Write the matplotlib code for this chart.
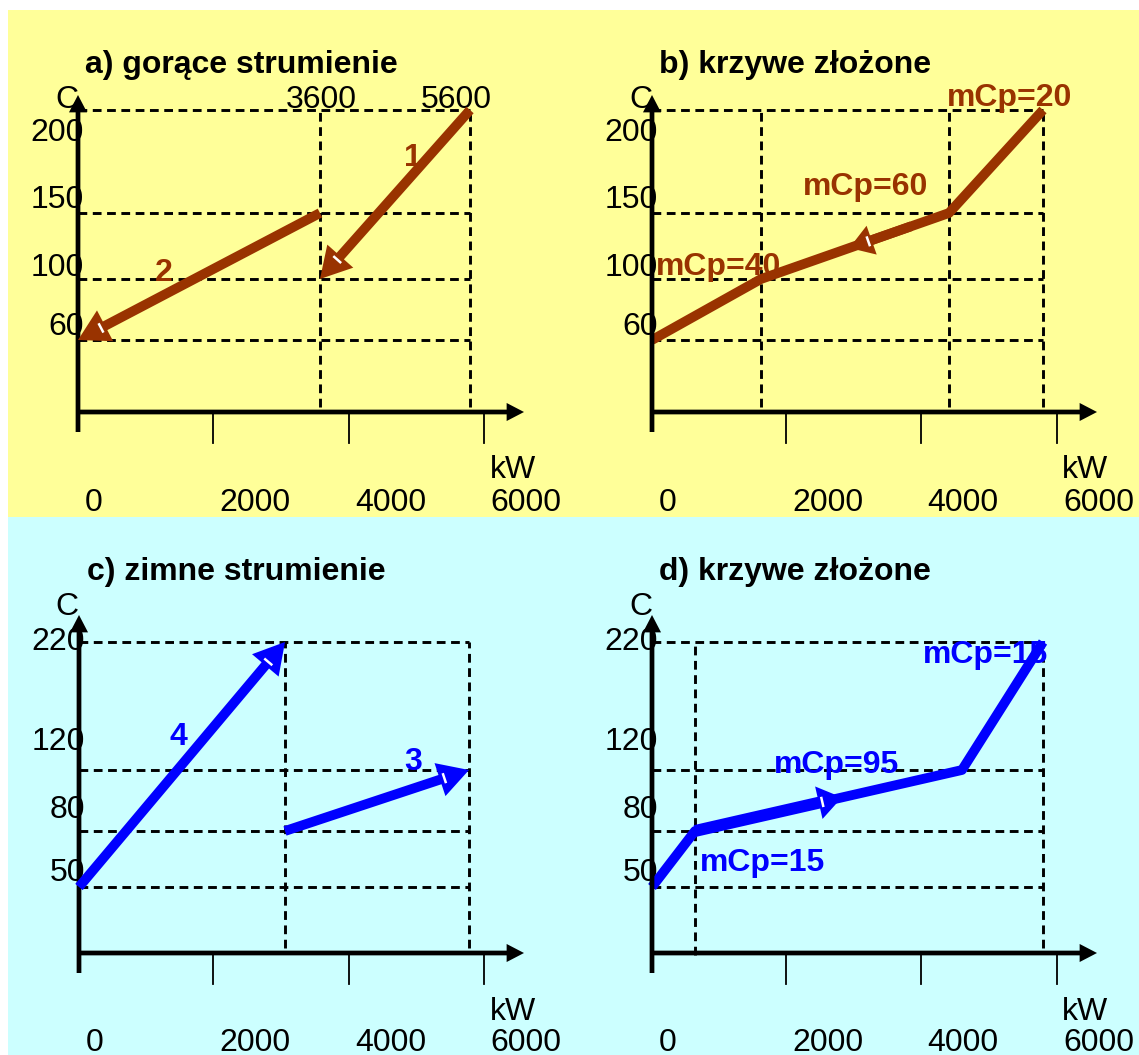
import numpy as np
import matplotlib
matplotlib.use("Agg")
import matplotlib.pyplot as plt
import matplotlib.transforms as mtransforms
from matplotlib.lines import Line2D
from matplotlib.patches import FancyArrowPatch, Rectangle, ArrowStyle

plt.rcParams['font.family'] = ['Liberation Sans', 'DejaVu Sans']

# ---- data (kW, deg C) ----
tick_kw = [0, 2000, 4000, 6000]
hot_temps = [200, 150, 100, 60]
cold_temps = [220, 120, 80, 50]

stream1_q = [5600, 3600]
stream1_t = [200, 100]
stream2_q = [3600, 0]
stream2_t = [150, 60]
stream3_q = [2550, 5750]
stream3_t = [80, 120]
stream4_q = [0, 2550]
stream4_t = [50, 220]

hot_comp_q = [0, 1600, 4600, 5600]
hot_comp_t = [60, 100, 150, 200]
hot_comp_mcp = [40, 60, 20]
cold_comp_q = [0, 450, 4250, 5750]
cold_comp_t = [50, 80, 120, 220]
cold_comp_mcp = [15, 95, 15]

BROWN = '#993300'
BLUE = '#0000ff'
YELLOW = '#ffff99'
CYAN = '#ccffff'
FS = 23
LW = 7.0   # stream line width, points

W, H = 1139, 1055
fig = plt.figure(figsize=(W / 100, H / 100), dpi=100)
fig.patch.set_facecolor('white')
# pixel coords, origin top-left
pix = mtransforms.Affine2D().scale(1 / W, -1 / H).translate(0, 1) + fig.transFigure
ident = mtransforms.IdentityTransform()

fig.patches.append(Rectangle((8, 10), W - 8, 507, transform=pix, facecolor=YELLOW, lw=0, zorder=-2))
fig.patches.append(Rectangle((8, 517), W - 8, H - 517, transform=pix, facecolor=CYAN, lw=0, zorder=-2))


def pw(v, xp, fp):
    # piecewise linear with linear extrapolation (schematic axes)
    v = np.asarray(v, dtype=float)
    xp = np.asarray(xp, float)
    fp = np.asarray(fp, float)
    out = np.interp(v, xp, fp)
    s0 = (fp[1] - fp[0]) / (xp[1] - xp[0])
    s1 = (fp[-1] - fp[-2]) / (xp[-1] - xp[-2])
    out = np.where(v < xp[0], fp[0] + (v - xp[0]) * s0, out)
    out = np.where(v > xp[-1], fp[-1] + (v - xp[-1]) * s1, out)
    return out


def make_panel(box, xkw, xpx, yt, ypx):
    x0, y0, x1, y1 = box
    yneg = [-p for p in ypx]
    ax = fig.add_axes([x0 / W, 1 - y1 / H, (x1 - x0) / W, (y1 - y0) / H])
    ax.set_xscale('function', functions=(lambda v: pw(v, xkw, xpx), lambda v: pw(v, xpx, xkw)))
    ax.set_yscale('function', functions=(lambda v: pw(v, yt, yneg), lambda v: pw(v, yneg, yt)))
    ax.set_xlim(float(pw(x0, xpx, xkw)), float(pw(x1, xpx, xkw)))
    ax.set_ylim(float(pw(-y1, yneg, yt)), float(pw(-y0, yneg, yt)))
    ax.set_axis_off()
    ax.patch.set_visible(False)
    return ax


def axes_arrows(ox, oy, ybot, ytop, xtip):
    st = ArrowStyle.Simple(head_length=12.5, head_width=13, tail_width=3.4)
    for a, b in [((ox, ybot), (ox, ytop)), ((ox - 2, oy), (xtip, oy))]:
        p = FancyArrowPatch(a, b, arrowstyle=st, mutation_scale=1, transform=pix,
                            color='black', lw=0, shrinkA=0, shrinkB=0, zorder=3)
        fig.patches.append(p)


def head_arrow(pa, pb, color, hl=22, hw=25, tw=LW):
    # pa, pb in display pixels; arrow head at pb with a small white notch at its base
    st = ArrowStyle.Simple(head_length=hl, head_width=hw, tail_width=tw)
    fig.patches.append(FancyArrowPatch(tuple(pa), tuple(pb), arrowstyle=st, mutation_scale=1,
                                       transform=ident, color=color, lw=0, shrinkA=0,
                                       shrinkB=0, zorder=5))
    u = (np.asarray(pb) - np.asarray(pa))
    u = u / np.hypot(*u)
    nrm = np.array([-u[1], u[0]])
    base = np.asarray(pb) - u * hl * 100 / 72 * 0.85
    seg = np.array([base - nrm * 4, base + nrm * 4])
    fig.lines.append(Line2D(seg[:, 0], seg[:, 1], transform=ident, color='white', lw=1.8, zorder=6))


def stream_arrow(ax, q, t, color):
    pa = ax.transData.transform((q[0], t[0]))
    pb = ax.transData.transform((q[1], t[1]))
    head_arrow(pa, pb, color)


def mid_arrow(ax, q, t, i, fa, fb, color, hl, hw, tw=LW):
    p0 = ax.transData.transform((q[i], t[i]))
    p1 = ax.transData.transform((q[i + 1], t[i + 1]))
    head_arrow(p0 + fa * (p1 - p0), p0 + fb * (p1 - p0), color, hl=hl, hw=hw, tw=tw)


def dashed(ax, xs, ys):
    ax.plot(xs, ys, color='black', lw=2.1, ls=(0, (3.0, 1.9)), clip_on=False, zorder=2)


def decorate(ax, title, tpos, origin, ybot, ytop, xtip, cpos, kwpos, tick_y, ylabels, yl_x, yl_off):
    ox, oy = origin
    fig.text(tpos[0] / W, 1 - tpos[1] / H, title, fontsize=FS, fontweight='bold', ha='left', va='center')
    axes_arrows(ox, oy, ybot, ytop, xtip)
    tx = mtransforms.blended_transform_factory(ax.transData, pix)
    ty = mtransforms.blended_transform_factory(pix, ax.transData)
    for q in tick_kw[1:]:
        ax.plot([q, q], [oy, oy + 31], color='black', lw=1.3, transform=tx, clip_on=False, zorder=3)
    for q in tick_kw:
        dx = 16 if q == 0 else 42
        ax.annotate(str(q), xy=(q, tick_y), xycoords=tx, xytext=(dx, 0), textcoords='offset pixels',
                    ha='center', va='center', fontsize=FS, annotation_clip=False)
    for t, off in zip(ylabels, yl_off):
        ax.annotate(str(t), xy=(yl_x, t), xycoords=ty, xytext=(0, off), textcoords='offset pixels',
                    ha='right', va='center', fontsize=FS, annotation_clip=False, zorder=4)
    fig.text(cpos[0] / W, 1 - cpos[1] / H, 'C', fontsize=FS, ha='center', va='center')
    fig.text(kwpos[0] / W, 1 - kwpos[1] / H, 'kW', fontsize=FS, ha='center', va='center')


hot_y = ([0, 60, 100, 150, 200], [412, 340, 279, 213, 110])
cold_y = ([0, 50, 80, 120, 220], [953, 887, 831, 770, 642])
hot_off = [-23, 13, 11, 13]
cold_off = [0, 28, 21, 14]

# ---- a) hot streams ----
axa = make_panel((0, 0, 570, 517), [0, 2000, 3600, 4000, 5600, 6000],
                 [78, 213, 320, 349, 470, 484], *hot_y)
for t in hot_temps:
    dashed(axa, [0, 5600], [t, t])
for q in [3600, 5600]:
    dashed(axa, [q, q], [4, 200])
decorate(axa, 'a) gorące strumienie', (85, 65), (78, 412), 432, 95, 524,
         (67, 100), (513, 470), 503, hot_temps, 84, hot_off)
for q, dx in zip([3600, 5600], [1, -14]):
    axa.annotate(str(q), xy=(q, 200), xytext=(dx, 10), textcoords='offset pixels',
                 ha='center', va='center', fontsize=FS, annotation_clip=False, zorder=4)
stream_arrow(axa, stream1_q, stream1_t, BROWN)
stream_arrow(axa, stream2_q, stream2_t, BROWN)
fig.text(413 / W, 1 - 158 / H, '1', color=BROWN, fontsize=FS, fontweight='bold', ha='center', va='center')
fig.text(164 / W, 1 - 273 / H, '2', color=BROWN, fontsize=FS, fontweight='bold', ha='center', va='center')

# ---- b) hot composite ----
axb = make_panel((570, 0, 1139, 517), [0, 1600, 2000, 4000, 4600, 5600, 6000],
                 [652, 761, 786, 921, 949, 1043, 1057], *hot_y)
for t in hot_temps:
    dashed(axb, [0, 5600], [t, t])
for q in hot_comp_q[1:]:
    dashed(axb, [q, q], [4, 200])
decorate(axb, 'b) krzywe złożone', (659, 65), (652, 412), 432, 95, 1097,
         (641, 100), (1085, 470), 503, hot_temps, 658, hot_off)
axb.plot(hot_comp_q, hot_comp_t, color=BROWN, lw=LW, solid_joinstyle='round',
         solid_capstyle='butt', clip_on=False, zorder=5)
mid_arrow(axb, hot_comp_q, hot_comp_t, 1, 0.8, 0.47, BROWN, hl=17, hw=22)
for m, pos in zip(hot_comp_mcp, [(719, 267), (866, 187), (1010, 98)]):
    fig.text(pos[0] / W, 1 - pos[1] / H, f'mCp={m}', color=BROWN, fontsize=FS,
             fontweight='bold', ha='center', va='center', zorder=7)

# ---- c) cold streams ----
axc = make_panel((0, 517, 570, 1055), [0, 2000, 2550, 4000, 5750, 6000],
                 [79, 213, 285, 349, 469, 484], *cold_y)
for t in cold_temps:
    dashed(axc, [0, 5750], [t, t])
for q in [2550, 5750]:
    dashed(axc, [q, q], [4, 220])
decorate(axc, 'c) zimne strumienie', (87, 572), (79, 953), 973, 615, 524,
         (67, 607), (513, 1012), 1043, cold_temps, 85, cold_off)
stream_arrow(axc, stream4_q, stream4_t, BLUE)
stream_arrow(axc, stream3_q, stream3_t, BLUE)
fig.text(178 / W, 1 - 737 / H, '4', color=BLUE, fontsize=FS, fontweight='bold', ha='center', va='center')
fig.text(413 / W, 1 - 762 / H, '3', color=BLUE, fontsize=FS, fontweight='bold', ha='center', va='center')

# ---- d) cold composite ----
axd = make_panel((570, 517, 1139, 1055), [0, 450, 2000, 4000, 4250, 5750, 6000],
                 [652, 695, 786, 921, 962, 1043, 1057], *cold_y)
for t in cold_temps:
    dashed(axd, [0, 5750], [t, t])
dashed(axd, [cold_comp_q[1]] * 2, [-1.5, 220])
for q in cold_comp_q[3:]:
    dashed(axd, [q, q], [4, 220])
decorate(axd, 'd) krzywe złożone', (659, 572), (652, 953), 973, 615, 1097,
         (641, 607), (1085, 1012), 1043, cold_temps, 658, cold_off)
axd.plot(cold_comp_q, cold_comp_t, color=BLUE, lw=LW, solid_joinstyle='round',
         solid_capstyle='butt', clip_on=False, zorder=5)
mid_arrow(axd, cold_comp_q, cold_comp_t, 1, 0.0, 0.55, BLUE, hl=17, hw=24, tw=8.6)
for m, pos in zip(cold_comp_mcp, [(762, 863), (837, 765), (986, 655)]):
    fig.text(pos[0] / W, 1 - pos[1] / H, f'mCp={m}', color=BLUE, fontsize=FS,
             fontweight='bold', ha='center', va='center', zorder=7)

fig.savefig('out.png', dpi=100)
